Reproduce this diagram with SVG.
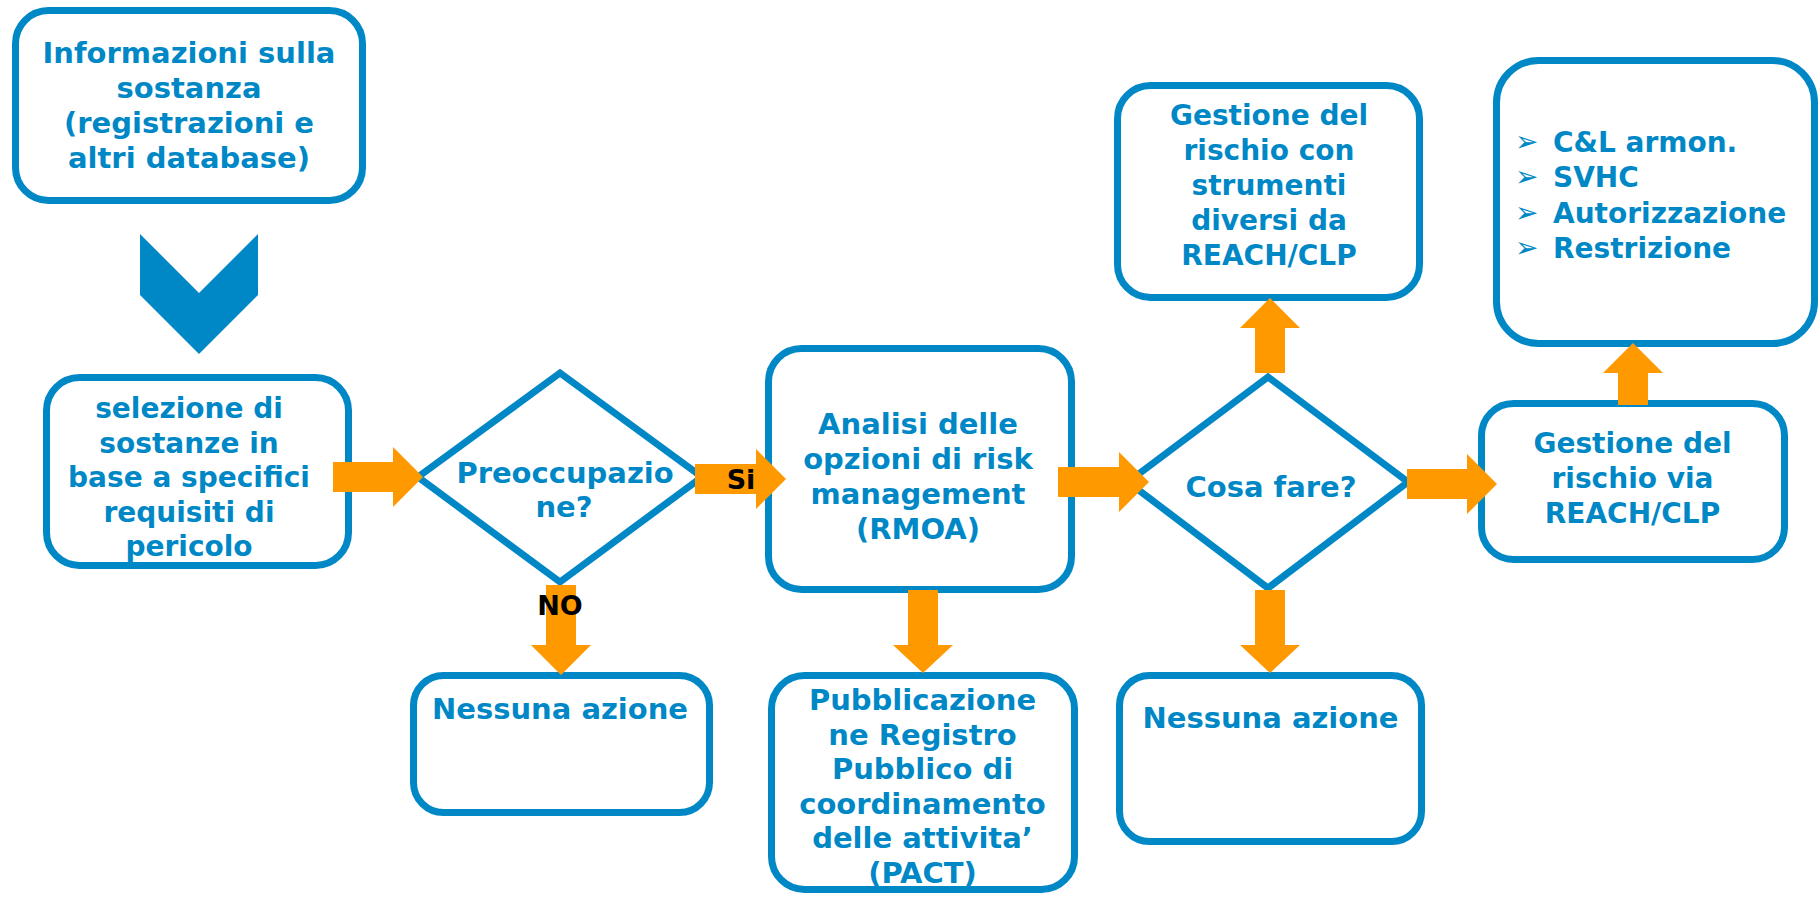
<svg xmlns="http://www.w3.org/2000/svg" width="1820" height="898" viewBox="0 0 1820 898">
<style>
.box{fill:#fff;stroke:#0088C6;stroke-width:7}
.t{font-family:"DejaVu Sans",Verdana,sans-serif;font-weight:bold;font-size:29px;fill:#0088C6;text-anchor:middle}
.bl{font-family:"DejaVu Sans",Verdana,sans-serif;font-weight:bold;font-size:28px;fill:#0088C6}
.bu{font-family:"DejaVu Sans",sans-serif;font-size:28px;fill:#0088C6}
.lab{font-family:"DejaVu Sans",Verdana,sans-serif;font-weight:bold;font-size:27px;fill:#000;text-anchor:middle}
.arr{fill:#FF9900}
</style>
<rect width="1820" height="898" fill="#fff"/>
<g id="n-info">
<rect class="box" x="15.5" y="10.5" width="347" height="190" rx="33"/>
<text class="t" x="189"><tspan x="189" y="63">Informazioni sulla</tspan><tspan x="189" y="98">sostanza</tspan><tspan x="189" y="133">(registrazioni e</tspan><tspan x="189" y="168">altri database)</tspan></text>
</g>
<g id="n-chevron">
<polygon points="140,234 199,293 258,234 258,295 199,354 140,295" fill="#0088C6"/>
</g>
<g id="n-selezione">
<rect class="box" x="46.5" y="377.5" width="302" height="188" rx="33"/>
<text class="t" style="font-size:28px"><tspan x="189" y="418">selezione di</tspan><tspan x="189" y="452.5">sostanze in</tspan><tspan x="189" y="487">base a specifici</tspan><tspan x="189" y="521.5">requisiti di</tspan><tspan x="189" y="556">pericolo</tspan></text>
</g>
<g id="n-preoccupazione">
<polygon class="box" points="560,373 702,477 560,582 418,477"/>
<text class="t"><tspan x="565" y="483">Preoccupazio</tspan><tspan x="564" y="517">ne?</tspan></text>
</g>
<g id="n-nessuna1">
<rect class="box" x="413.5" y="675.5" width="296" height="137" rx="30"/>
<text class="t" x="560" y="719">Nessuna azione</text>
</g>
<g id="n-rmoa">
<rect class="box" x="768.5" y="348.5" width="303" height="241" rx="33"/>
<text class="t"><tspan x="918" y="434">Analisi delle</tspan><tspan x="918" y="469">opzioni di risk</tspan><tspan x="918" y="504">management</tspan><tspan x="918" y="539">(RMOA)</tspan></text>
</g>
<g id="n-pact">
<rect class="box" x="771.5" y="675.5" width="303" height="214" rx="33"/>
<text class="t"><tspan x="922.5" y="710">Pubblicazione</tspan><tspan x="922.5" y="744.5">ne Registro</tspan><tspan x="922.5" y="779">Pubblico di</tspan><tspan x="922.5" y="813.5">coordinamento</tspan><tspan x="922.5" y="848">delle attivita’</tspan><tspan x="922.5" y="882.5">(PACT)</tspan></text>
</g>
<g id="n-cosafare">
<polygon class="box" points="1268,377 1408,482 1268,588 1128,482"/>
<text class="t" x="1271" y="497">Cosa fare?</text>
</g>
<g id="n-strumenti">
<rect class="box" x="1117.5" y="85.5" width="302" height="212" rx="33"/>
<text class="t" style="font-size:28px"><tspan x="1269" y="125">Gestione del</tspan><tspan x="1269" y="160">rischio con</tspan><tspan x="1269" y="195">strumenti</tspan><tspan x="1269" y="230">diversi da</tspan><tspan x="1269" y="265">REACH/CLP</tspan></text>
</g>
<g id="n-nessuna2">
<rect class="box" x="1119.5" y="675.5" width="302" height="166" rx="30"/>
<text class="t" x="1270.5" y="728">Nessuna azione</text>
</g>
<g id="n-via">
<rect class="box" x="1481.5" y="403.5" width="303" height="156" rx="32"/>
<text class="t" style="font-size:28px"><tspan x="1632.5" y="453">Gestione del</tspan><tspan x="1632.5" y="488">rischio via</tspan><tspan x="1632.5" y="523">REACH/CLP</tspan></text>
</g>
<g id="n-misure">
<rect class="box" x="1496.5" y="60.5" width="318" height="283" rx="42"/>
<text class="bu" x="1515" y="151">➢</text>
<text class="bu" x="1515" y="186">➢</text>
<text class="bu" x="1515" y="222">➢</text>
<text class="bu" x="1515" y="257">➢</text>
<text class="bl" x="1553" y="152">C&amp;L armon.</text>
<text class="bl" x="1553" y="187">SVHC</text>
<text class="bl" x="1553" y="223">Autorizzazione</text>
<text class="bl" x="1553" y="258">Restrizione</text>
</g>
<g id="connectors">
<polygon class="arr" points="333,462 393,462 393,447 423,477 393,507 393,492 333,492"/>
<polygon class="arr" points="695,464 756,464 756,449 786,479 756,509 756,494 695,494"/>
<polygon class="arr" points="546,585 576,585 576,645 591,645 561,675 531,645 546,645"/>
<polygon class="arr" points="1058,467 1119,467 1119,452 1149,482 1119,512 1119,497 1058,497"/>
<polygon class="arr" points="908,590 938,590 938,645 953,645 923,673 893,645 908,645"/>
<polygon class="arr" points="1255,373 1285,373 1285,328 1300,328 1270,298 1240,328 1255,328"/>
<polygon class="arr" points="1255,590 1285,590 1285,645 1300,645 1270,673 1240,645 1255,645"/>
<polygon class="arr" points="1407,469 1467,469 1467,454 1497,484 1467,514 1467,499 1407,499"/>
<polygon class="arr" points="1618,405 1648,405 1648,373 1663,373 1633,343 1603,373 1618,373"/>
<text class="lab" x="741" y="489">Si</text>
<text class="lab" x="560" y="615">NO</text>
</g>
</svg>
